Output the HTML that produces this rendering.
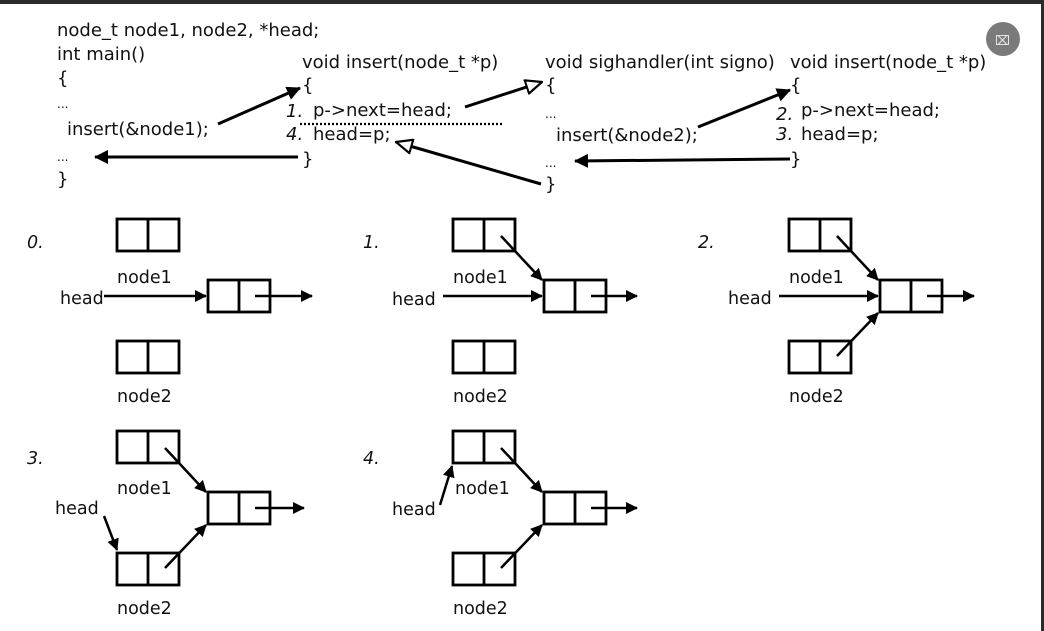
<!DOCTYPE html>
<html><head><meta charset="utf-8"><style>
html,body{margin:0;padding:0;background:#fff;}
svg{display:block;}
text{font-family:"DejaVu Sans","Liberation Sans",sans-serif;font-size:17.5px;fill:#111;}
.c{font-size:18px;}
.i{font-style:italic;}
</style></head><body>
<svg width="1044" height="631" viewBox="0 0 1044 631" xmlns="http://www.w3.org/2000/svg">
<defs>
<marker id="f" markerWidth="12" markerHeight="12" refX="11" refY="6" orient="auto" markerUnits="userSpaceOnUse" viewBox="0 0 12 12"><path d="M0,0 L12,6 L0,12 z" fill="#000"/></marker>
<marker id="fs" markerWidth="14" markerHeight="14" refX="13" refY="7" orient="auto" markerUnits="userSpaceOnUse" viewBox="0 0 14 14"><path d="M0,0 L14,7 L0,14 z" fill="#000"/></marker>
<marker id="o" markerWidth="18" markerHeight="16" refX="17" refY="8" orient="auto" markerUnits="userSpaceOnUse" viewBox="0 0 18 16"><path d="M1,1 L17,8 L1,15 z" fill="#fff" stroke="#000" stroke-width="2.2"/></marker>
<g id="box"><rect x="0" y="0" width="62" height="32" fill="none" stroke="#000" stroke-width="2.8"/><line x1="31" y1="0" x2="31" y2="32" stroke="#000" stroke-width="2.8"/></g>
</defs>
<rect x="0" y="0" width="1044" height="4" fill="#2b2b2b"/>
<rect x="1041" y="0" width="3" height="631" fill="#2b2b2b"/>
<circle cx="1003" cy="39" r="17" fill="#7a7a7a"/>
<text x="995" y="45" style="font-size:13px;fill:#eee">⌧</text>

<g class="c">
<text class="c" x="57" y="36">node_t node1, node2, *head;</text>
<text class="c" x="57" y="60">int main()</text>
<text class="c" x="57" y="84">{</text>
<text x="57" y="108" style="font-size:12px">...</text>
<text class="c" x="67" y="135">insert(&amp;node1);</text>
<text x="57" y="161" style="font-size:12px">...</text>
<text class="c" x="57" y="185">}</text>

<text class="c" x="302" y="68">void insert(node_t *p)</text>
<text class="c" x="302" y="91">{</text>
<text class="c i" x="286" y="117">1.</text><text class="c" x="313" y="116">p-&gt;next=head;</text>
<text class="c i" x="286" y="140">4.</text><text class="c" x="313" y="140">head=p;</text>
<text class="c" x="302" y="165">}</text>

<text class="c" x="545" y="68">void sighandler(int signo)</text>
<text class="c" x="545" y="91">{</text>
<text x="545" y="118" style="font-size:12px">...</text>
<text class="c" x="556" y="141">insert(&amp;node2);</text>
<text x="545" y="167" style="font-size:12px">...</text>
<text class="c" x="545" y="190">}</text>

<text class="c" x="790" y="68">void insert(node_t *p)</text>
<text class="c" x="790" y="91">{</text>
<text class="c i" x="776" y="120">2.</text><text class="c" x="801" y="116">p-&gt;next=head;</text>
<text class="c i" x="776" y="140">3.</text><text class="c" x="801" y="140">head=p;</text>
<text class="c" x="790" y="165">}</text>
</g>
<line x1="300" y1="124" x2="502" y2="124" stroke="#000" stroke-width="2.2" stroke-dasharray="2,2"/>

<g stroke="#000" stroke-width="3" fill="none">
<line x1="218" y1="124" x2="300" y2="88" marker-end="url(#fs)"/>
<line x1="298" y1="157" x2="95" y2="157" marker-end="url(#fs)"/>
<line x1="465" y1="107" x2="542" y2="82" marker-end="url(#o)"/>
<line x1="541" y1="184" x2="396" y2="142" marker-end="url(#o)"/>
<line x1="698" y1="127" x2="790" y2="90" marker-end="url(#fs)"/>
<line x1="790" y1="159" x2="575" y2="161" marker-end="url(#fs)"/>
</g>

<g stroke="#000" stroke-width="2.5">
<!-- Panel 0 -->
<line x1="104" y1="296" x2="206" y2="296" marker-end="url(#f)"/>
<line x1="255" y1="296" x2="312" y2="296" marker-end="url(#f)"/>
<!-- Panel 1 -->
<line x1="443" y1="296" x2="542" y2="296" marker-end="url(#f)"/>
<line x1="591" y1="296" x2="637" y2="296" marker-end="url(#f)"/>
<line x1="501" y1="236" x2="542" y2="280" marker-end="url(#f)"/>
<!-- Panel 2 -->
<line x1="779" y1="296" x2="878" y2="296" marker-end="url(#f)"/>
<line x1="927" y1="296" x2="974" y2="296" marker-end="url(#f)"/>
<line x1="837" y1="236" x2="878" y2="280" marker-end="url(#f)"/>
<line x1="837" y1="356" x2="878" y2="313" marker-end="url(#f)"/>
<!-- Panel 3 -->
<line x1="104" y1="516" x2="117" y2="550" marker-end="url(#f)"/>
<line x1="255" y1="508" x2="304" y2="508" marker-end="url(#f)"/>
<line x1="165" y1="448" x2="206" y2="492" marker-end="url(#f)"/>
<line x1="165" y1="568" x2="206" y2="525" marker-end="url(#f)"/>
<!-- Panel 4 -->
<line x1="440" y1="505" x2="452" y2="466" marker-end="url(#f)"/>
<line x1="591" y1="508" x2="637" y2="508" marker-end="url(#f)"/>
<line x1="501" y1="448" x2="542" y2="492" marker-end="url(#f)"/>
<line x1="501" y1="568" x2="542" y2="525" marker-end="url(#f)"/>
</g>

<text x="27" y="248" class="i">0.</text>
<use href="#box" x="117" y="219"/><text x="117" y="283">node1</text>
<text x="60" y="304">head</text>
<use href="#box" x="208" y="280"/>
<use href="#box" x="117" y="341"/><text x="117" y="402">node2</text>

<text x="363" y="248" class="i">1.</text>
<use href="#box" x="453" y="219"/><text x="453" y="283">node1</text>
<text x="392" y="305">head</text>
<use href="#box" x="544" y="280"/>
<use href="#box" x="453" y="341"/><text x="453" y="402">node2</text>

<text x="698" y="248" class="i">2.</text>
<use href="#box" x="789" y="219"/><text x="789" y="283">node1</text>
<text x="728" y="304">head</text>
<use href="#box" x="880" y="280"/>
<use href="#box" x="789" y="341"/><text x="789" y="402">node2</text>

<text x="27" y="464" class="i">3.</text>
<use href="#box" x="117" y="431"/><text x="117" y="494">node1</text>
<text x="55" y="514">head</text>
<use href="#box" x="208" y="492"/>
<use href="#box" x="117" y="553"/><text x="117" y="614">node2</text>

<text x="363" y="464" class="i">4.</text>
<use href="#box" x="453" y="431"/><text x="455" y="494">node1</text>
<text x="392" y="515">head</text>
<use href="#box" x="544" y="492"/>
<use href="#box" x="453" y="553"/><text x="453" y="614">node2</text>
</svg>
</body></html>
